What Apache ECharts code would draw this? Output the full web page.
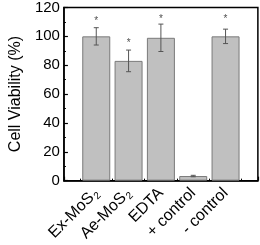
<!DOCTYPE html>
<html><head><meta charset="utf-8">
<script src="https://cdn.jsdelivr.net/npm/echarts@6/dist/echarts.min.js"></script>
<style>html,body{margin:0;padding:0;background:#fff}#c{width:260px;height:245px}</style>
</head><body><div id="c"></div>
<script>
var categories = ['Ex-MoS{s|2}', 'Ae-MoS{s|2}', 'EDTA', '+ control', '- control'];
var viability = [100, 83, 99, 3.2, 100];
var errors = [6, 7.5, 9.5, 0.5, 5];
var stars = [110.5, 95.5, 112, null, 112];
var yTicks = [0, 20, 40, 60, 80, 100, 120];

var positions = categories.map(function (c, i) { return i + 1; });
var barData = positions.map(function (p, i) { return [p, viability[i]]; });
var errData = positions.map(function (p, i) { return [p, viability[i] - errors[i], viability[i] + errors[i]]; });
var starData = positions.map(function (p, i) { return stars[i] == null ? null : [p, stars[i]]; }).filter(function (d) { return d; });

var chart = echarts.init(document.getElementById('c'));
chart.setOption({
  animation: false,
  grid: { left: 49, right: 2, top: 7, bottom: 62, show: true, borderColor: '#000', borderWidth: 1.5, backgroundColor: 'transparent' },
  xAxis: {
    type: 'value', min: 0, max: 6, interval: 1,
    axisLine: { show: true, lineStyle: { color: '#000', width: 1.5 } },
    axisTick: { show: true, inside: true, length: 4, lineStyle: { color: '#000', width: 1.2 } },
    minorTick: { show: true, splitNumber: 2, length: 2, lineStyle: { color: '#000', width: 1 } },
    splitLine: { show: false },
    axisLabel: {
      rotate: 45, margin: 10, fontSize: 16, color: '#000', fontFamily: 'Liberation Sans',
      formatter: function (v) { return (v >= 1 && v <= 5) ? categories[v - 1] : ''; },
      rich: { s: { fontSize: 10, verticalAlign: 'bottom', padding: [9, 0, 0, 1], color: '#000', fontFamily: 'Liberation Sans' } }
    }
  },
  yAxis: {
    type: 'value', min: 0, max: 120, interval: 20,
    name: 'Cell Viability (%)', nameLocation: 'middle', nameGap: 33,
    nameTextStyle: { fontSize: 16, color: '#000', fontFamily: 'Liberation Sans' },
    axisLine: { show: true, lineStyle: { color: '#000', width: 1.5 } },
    axisTick: { show: true, inside: true, length: 4, lineStyle: { color: '#000', width: 1.2 } },
    minorTick: { show: true, splitNumber: 2, length: 2, lineStyle: { color: '#000', width: 1 } },
    splitLine: { show: false },
    axisLabel: { fontSize: 15, color: '#000', margin: 4, fontFamily: 'Liberation Sans',
      formatter: function (v) { return yTicks.indexOf(v) >= 0 ? String(v) : ''; } }
  },
  series: [
    {
      type: 'bar', data: barData, barWidth: 28,
      itemStyle: { color: '#c0c0c0', borderColor: '#7a7a7a', borderWidth: 1 }
    },
    {
      type: 'custom', data: errData, z: 5,
      renderItem: function (params, api) {
        var x = api.value(0);
        var lo = api.coord([x, api.value(1)]);
        var hi = api.coord([x, api.value(2)]);
        var c = lo[0], w = 2.5;
        var st = { stroke: '#555', lineWidth: 1 };
        return { type: 'group', children: [
          { type: 'line', shape: { x1: c, y1: lo[1], x2: c, y2: hi[1] }, style: st },
          { type: 'line', shape: { x1: c - w, y1: lo[1], x2: c + w, y2: lo[1] }, style: st },
          { type: 'line', shape: { x1: c - w, y1: hi[1], x2: c + w, y2: hi[1] }, style: st }
        ] };
      }
    },
    {
      type: 'scatter', data: starData, symbolSize: 0, z: 6,
      label: { show: true, position: 'inside', formatter: '*', fontSize: 10, color: '#222', fontFamily: 'Liberation Sans' }
    }
  ]
});
</script></body></html>
